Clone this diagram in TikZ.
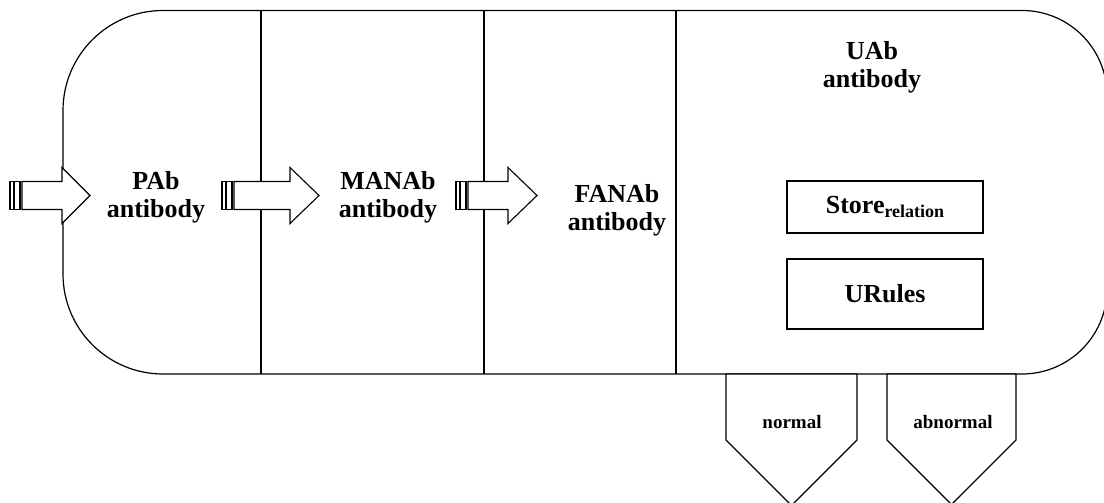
\documentclass[tikz,border=0pt]{standalone}
\usepackage{fontspec}
\setmainfont{Liberation Serif}
\newcommand\stripedarrow[3]{%
  \draw[arrowshape] (#1,181.5) rectangle ++(3.5,28);
  \draw[arrowshape] (#1+4.7,181.5) rectangle ++(5.3,28);
  \draw[arrowshape] (#1+12,181.5) -- (#2,181.5) -- (#2,167.5) -- (#3,195.5) -- (#2,223.5) -- (#2,209.5) -- (#1+12,209.5) -- cycle;}
\begin{document}
\begin{tikzpicture}[x=1pt,y=-1pt,line width=1.2pt,line join=miter,
  txt/.style={font=\fontsize{26}{28}\selectfont\bfseries, align=center, inner sep=0pt},
  boxnode/.style={draw, minimum width=196pt, inner sep=0pt, font=\fontsize{26}{28}\selectfont\bfseries},
  outlabel/.style={font=\fontsize{19}{22}\selectfont\bfseries, inner sep=0pt, anchor=base},
  arrowshape/.style={draw, fill=white, line width=1.1pt},
  pentagon/.style={draw, fill=white}]
\useasboundingbox (0,0) rectangle (1104,503);
\clip (0,0) rectangle (1104,503);
% outer rounded container
\draw (163,10.5) -- (1022,10.5) .. controls (1069,10.5) and (1107,48.5) .. (1107,95.5)
  -- (1107,289) .. controls (1107,336) and (1069,374) .. (1022,374)
  -- (163,374) .. controls (107.8,374) and (63,329.2) .. (63,274)
  -- (63,110.5) .. controls (63,55.3) and (107.8,10.5) .. (163,10.5) -- cycle;
% dividers
\draw (261,10.5) -- (261,374);
\draw (484,10.5) -- (484,374);
\draw (676,10.5) -- (676,374);
% striped arrows
\stripedarrow{10}{62}{90}
\stripedarrow{222}{290}{319}
\stripedarrow{456}{508}{537}
% texts
\node[txt] (pab) at (156,197) {PAb\\antibody};
\node[txt] (manab) at (388,197) {MANAb\\antibody};
\node[txt] (fanab) at (617,210) {FANAb\\antibody};
\node[txt] (uab) at (872,67) {UAb\\antibody};
% inner boxes
\node[boxnode, minimum height=52pt] (store) at (885,207) {Store\raisebox{-4pt}{\fontsize{18}{18}\selectfont relation}};
\node[boxnode, minimum height=70pt] (urules) at (885,294) {URules};
% output pentagons
\draw[pentagon] (726,374) -- (857,374) -- (857,440) -- (791.5,505.5) -- (726,440) -- cycle;
\draw[pentagon] (887,374) -- (1016,374) -- (1016,440) -- (951.5,504.5) -- (887,440) -- cycle;
\node[outlabel] (normal) at (792,428) {normal};
\node[outlabel] (abnormal) at (953,428) {abnormal};
\end{tikzpicture}
\end{document}
